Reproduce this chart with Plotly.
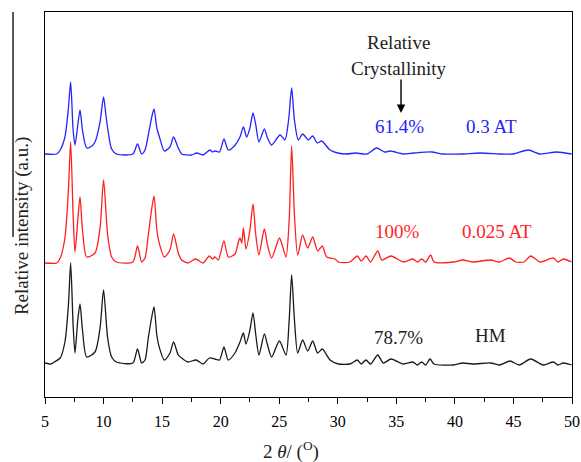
import plotly.graph_objects as go

# ---- data (2theta in degrees, intensity in arbitrary units, stacked) ----
two_theta_03 = [5.0, 6.0, 6.3, 6.7, 7.0, 7.19, 7.4, 7.56, 7.8, 7.99, 8.2, 8.56, 9.0, 9.27, 9.7, 10.0, 10.2, 10.41,
                10.69, 11.1, 12.5, 12.9, 13.25, 13.54, 13.82, 14.1, 14.31, 14.55, 14.8, 15.19, 15.67, 15.98, 16.38,
                16.67, 17.5, 17.95, 18.5, 19.09, 19.3, 19.5, 19.9, 20.28, 20.65, 21.17, 21.65, 21.94, 22.22, 22.5,
                22.76, 23.0, 23.27, 23.73, 24.0, 24.35, 25.07, 25.49, 25.8, 26.06, 26.3, 26.63, 27.0, 27.49, 27.86,
                28.25, 28.62, 29.34, 30.0, 30.76, 31.5, 32.5, 33.32, 34.0, 34.46, 35.6, 36.5, 38.02, 39.0, 40.58,
                42.14, 44.0, 44.99, 46.27, 47.27, 48.7, 49.97]
intensity_03 = [243, 243, 247, 260, 289, 315, 267, 252, 272, 287, 267, 249, 251, 255, 275, 300, 282, 264,
                248, 243, 243, 253, 243, 247, 262, 279, 288, 269, 259, 246, 250, 260, 249,
                243, 242, 244, 242, 247, 245, 246, 245, 258, 247, 251, 260, 270, 260, 269,
                284, 272, 255, 268, 259, 252, 262, 257, 277, 309, 277, 257, 263, 257, 261,
                254, 256, 247, 244, 243, 244, 243, 249, 245, 246, 243, 244, 245, 243, 243,
                244, 243, 243, 247, 243, 245, 243]

two_theta_0025 = [5.0, 6.0, 6.3, 6.7, 7.0, 7.19, 7.4, 7.56, 7.8, 7.99, 8.2, 8.56, 9.27, 9.7, 10.0, 10.35, 10.69,
                  11.1, 12.5, 12.9, 13.25, 13.54, 13.82, 14.1, 14.31, 14.55, 14.75, 15.19, 15.67, 15.98, 16.38,
                  16.67, 17.2, 17.86, 18.5, 19.03, 19.3, 19.5, 19.8, 20.28, 20.65, 21.22, 21.51, 21.65, 21.8,
                  21.94, 22.16, 22.5, 22.76, 23.0, 23.27, 23.73, 24.0, 24.35, 25.01, 25.2, 25.58, 25.85, 26.06,
                  26.3, 26.58, 27.0, 27.43, 27.86, 28.28, 28.68, 29.05, 29.76, 30.05, 31.04, 31.67, 32.0, 32.41,
                  32.8, 33.41, 33.75, 34.55, 35.6, 36.4, 36.8, 37.16, 37.5, 37.93, 38.22, 39.87, 40.67, 41.5,
                  43.06, 43.8, 44.65, 45.2, 45.9, 46.47, 47.27, 48.41, 48.8, 49.26, 49.97]
intensity_0025 = [134, 134, 139, 159, 207, 255, 182, 145, 177, 200, 167, 140, 144, 169, 217, 162, 140,
                  135, 135, 151, 135, 139, 162, 187, 201, 167, 154, 140, 147, 163, 144,
                  137, 134, 138, 134, 141, 138, 140, 137, 156, 140, 143, 155, 159, 154,
                  169, 148, 167, 193, 162, 142, 168, 152, 139, 159, 154, 140, 177, 251,
                  182, 142, 162, 149, 160, 146, 151, 140, 138, 135, 135, 141, 136, 141,
                  135, 146, 137, 141, 135, 138, 135, 138, 135, 142, 135, 135, 137, 135,
                  137, 135, 139, 135, 135, 141, 135, 139, 135, 138, 135]

two_theta_hm = [5.0, 5.5, 5.8, 6.3, 6.7, 7.0, 7.19, 7.4, 7.56, 7.8, 7.99, 8.2, 8.56, 9.27, 9.7, 10.0, 10.35,
                10.69, 11.1, 12.5, 12.9, 13.25, 13.54, 13.82, 14.1, 14.31, 14.55, 14.75, 15.19, 15.67, 15.98,
                16.38, 16.67, 17.2, 17.9, 18.5, 19.03, 19.5, 19.9, 20.28, 20.65, 21.22, 21.65, 21.94, 22.16,
                22.5, 22.76, 23.0, 23.27, 23.73, 24.0, 24.35, 25.01, 25.58, 25.85, 26.06, 26.3, 26.58, 27.0,
                27.43, 27.86, 28.28, 28.68, 29.34, 30.05, 31.04, 31.67, 32.0, 32.41, 32.8, 33.41, 33.89, 34.55,
                35.6, 36.4, 36.8, 37.16, 37.5, 37.88, 38.22, 39.87, 40.67, 41.5, 43.06, 43.8, 44.71, 45.5,
                46.47, 47.55, 48.41, 48.8, 49.26, 49.97]
intensity_hm = [34, 33, 35, 39, 55, 92, 134, 72, 44, 77, 93, 67, 40, 45, 69, 107, 59,
                40, 35, 34, 48, 34, 37, 59, 79, 90, 62, 50, 37, 44, 55,
                42, 39, 35, 37, 33, 39, 38, 37, 50, 37, 44, 55, 64, 53,
                67, 84, 62, 42, 63, 52, 40, 56, 42, 77, 122, 77, 44, 57,
                46, 56, 44, 48, 37, 33, 33, 37, 33, 37, 33, 42, 34, 38,
                33, 35, 32, 35, 32, 38, 33, 32, 34, 33, 34, 32, 36, 32,
                38, 32, 35, 32, 34, 32]

x_ticks = [5, 10, 15, 20, 25, 30, 35, 40, 45, 50]

SERIF = "Liberation Serif, Times New Roman, serif"
BLUE = "#2424ff"
RED = "#ff1f1f"
BLACK = "#1a1a1a"

fig = go.Figure()
for xs, ys, col, nm in [(two_theta_hm, intensity_hm, BLACK, "HM"),
                        (two_theta_0025, intensity_0025, RED, "0.025 AT"),
                        (two_theta_03, intensity_03, BLUE, "0.3 AT")]:
    fig.add_trace(go.Scatter(x=xs, y=ys, mode="lines", name=nm,
                             line=dict(color=col, width=1.3, shape="spline", smoothing=0.7)))

fig.update_layout(
    width=581, height=462,
    margin=dict(l=45, r=9, t=12, b=65, autoexpand=False),
    paper_bgcolor="white", plot_bgcolor="white",
    showlegend=False,
    font=dict(family=SERIF, size=16, color="black"),
)
fig.update_xaxes(
    range=[5, 50], tickvals=x_ticks, ticktext=[str(v) for v in x_ticks],
    showgrid=False, zeroline=False, automargin=False,
    showline=True, linecolor="black", linewidth=1.3, mirror=True,
    ticks="outside", ticklen=6, tickwidth=1.2, tickcolor="black",
    tickfont=dict(family=SERIF, size=16, color="black"),
    ticklabelstandoff=4,
    minor=dict(ticks="outside", ticklen=3.5, tickwidth=1.2, tickcolor="black", dtick=2.5, tick0=5,
               showgrid=False),
)
fig.update_yaxes(
    range=[0, 385], showticklabels=False, ticks="", showgrid=False, zeroline=False, automargin=False,
    showline=True, linecolor="black", linewidth=1.3, mirror=True,
)

ann_font = 19
annots = [
    dict(x=35.2, y=355, text="Relative", color="#222222"),
    dict(x=35.2, y=329, text="Crystallinity", color="#222222"),
    dict(x=35.3, y=271, text="61.4%", color=BLUE),
    dict(x=43.13, y=271, text="0.3 AT", color=BLUE),
    dict(x=35.06, y=166, text="100%", color=RED),
    dict(x=43.6, y=166, text="0.025 AT", color=RED),
    dict(x=35.19, y=60, text="78.7%", color="#222222"),
    dict(x=43.0, y=62, text="HM", color="#222222"),
]
for a in annots:
    fig.add_annotation(x=a["x"], y=a["y"], xref="x", yref="y", text=a["text"], showarrow=False,
                       xanchor="center", yanchor="middle",
                       font=dict(family=SERIF, size=ann_font, color=a["color"]))

# arrow pointing at the crystallinity values
fig.add_annotation(x=35.4, y=284, ax=35.4, ay=319, xref="x", yref="y", axref="x", ayref="y",
                   text="", showarrow=True, arrowhead=2, arrowsize=1.2, arrowwidth=1.4,
                   arrowcolor="black")

# axis titles
fig.add_annotation(x=-0.0436, y=0.444, xref="paper", yref="paper", text="Relative intensity (a.u.)",
                   textangle=-90, showarrow=False, xanchor="center", yanchor="middle",
                   font=dict(family=SERIF, size=19, color="#222222"))
fig.add_annotation(x=0.467, y=-0.138, xref="paper", yref="paper",
                   text="2 <i>θ</i>/ (<sup>O</sup>)", showarrow=False,
                   xanchor="center", yanchor="middle",
                   font=dict(family=SERIF, size=19, color="#222222"))

# thin vertical rule at the far left (present in the reference image)
fig.add_shape(type="line", xref="paper", yref="paper", x0=-0.0607, x1=-0.0607, y0=0.4156, y1=1.0,
              line=dict(color="black", width=1.3))

fig.write_html("out.html")
